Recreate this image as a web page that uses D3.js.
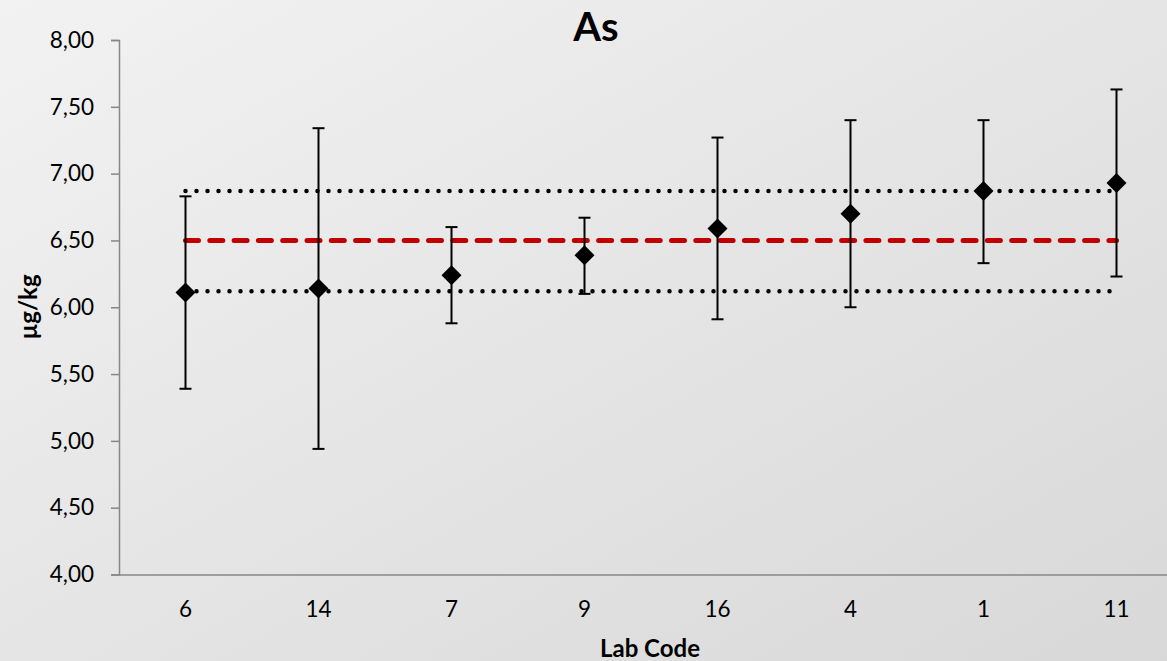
<!DOCTYPE html>
<html lang="en">
<head>
    <meta charset="UTF-8">
    <title>As</title>
    <script src="https://d3js.org/d3.v7.min.js"></script>
    <style>
        body { margin: 0; }
        text { font-family: Lato, "Open Sans", sans-serif; fill: #000; }
        .tick-label { font-size: 22.5px; }
        .axis-title { font-size: 24px; font-weight: bold; }
        .title { font-size: 40px; font-weight: bold; }
    </style>
</head>
<body>
    <div id="chart"></div>

    <script>
        // Data
        const labCodes = ["6", "14", "7", "9", "16", "4", "1", "11"];
        const values = [6.11, 6.14, 6.24, 6.39, 6.59, 6.70, 6.87, 6.93];
        const errUpper = [6.83, 7.34, 6.60, 6.67, 7.27, 7.40, 7.40, 7.63];
        const errLower = [5.39, 4.94, 5.88, 6.10, 5.91, 6.00, 6.33, 6.23];
        const assignedValue = 6.50;
        const upperLimit = 6.87;
        const lowerLimit = 6.12;
        const yTicks = [4.0, 4.5, 5.0, 5.5, 6.0, 6.5, 7.0, 7.5, 8.0];

        const W = 1167, H = 661;
        const margin = { top: 40, left: 119 };
        const plotBottom = 574.5, plotRight = 1183;

        const svg = d3.select("#chart")
            .append("svg")
            .attr("width", W)
            .attr("height", H);

        // background gradient
        const grad = svg.append("defs").append("linearGradient")
            .attr("id", "bg")
            .attr("x1", "0%").attr("y1", "0%")
            .attr("x2", "100%").attr("y2", "100%");
        grad.append("stop").attr("offset", "0%").attr("stop-color", "#f2f2f2");
        grad.append("stop").attr("offset", "100%").attr("stop-color", "#d8d8d8");
        svg.append("rect").attr("width", W).attr("height", H).attr("fill", "url(#bg)");

        const x = d3.scaleBand().domain(labCodes).range([margin.left, plotRight]);
        const y = d3.scaleLinear().domain([4, 8]).range([plotBottom, margin.top]);
        const cx = d => x(d) + x.bandwidth() / 2;

        const fmt = v => d3.format(".2f")(v).replace(".", ",");

        // Y axis
        const yAxis = svg.append("g")
            .attr("transform", `translate(${margin.left},0)`)
            .call(d3.axisLeft(y).tickValues(yTicks).tickSize(8).tickFormat(fmt));
        yAxis.select(".domain").attr("stroke", "#878787").attr("stroke-width", 1.5);
        yAxis.selectAll(".tick line").attr("stroke", "#878787").attr("stroke-width", 1.5);
        yAxis.selectAll(".tick text")
            .attr("class", "tick-label")
            .attr("x", -25)
            .attr("font-family", null).attr("font-size", null)
            .attr("fill", "#000");

        // X axis
        const xAxis = svg.append("g")
            .attr("transform", `translate(0,${plotBottom})`)
            .call(d3.axisBottom(x).tickSize(0).tickPadding(27));
        xAxis.select(".domain").attr("stroke", "#878787").attr("stroke-width", 1.5);
        xAxis.selectAll(".tick text")
            .attr("class", "tick-label")
            .attr("font-family", null).attr("font-size", null)
            .attr("fill", "#000");

        // reference lines from first to last lab
        const line = d3.line().x(d => cx(d[0])).y(d => y(d[1]));
        [upperLimit, lowerLimit].forEach(v => {
            svg.append("path")
                .attr("d", line(labCodes.map(c => [c, v])))
                .attr("fill", "none")
                .attr("stroke", "#000")
                .attr("stroke-width", 4.5)
                .attr("stroke-linecap", "round")
                .attr("stroke-dasharray", "0,11");
        });
        svg.append("path")
            .attr("d", line(labCodes.map(c => [c, assignedValue])))
            .attr("fill", "none")
            .attr("stroke", "#c00000")
            .attr("stroke-width", 5)
            .attr("stroke-linecap", "round")
            .attr("stroke-dasharray", "13,11.3");

        // error bars
        const bars = svg.append("g").attr("stroke", "#000").attr("stroke-width", 2);
        labCodes.forEach((c, i) => {
            bars.append("line")
                .attr("x1", cx(c)).attr("x2", cx(c))
                .attr("y1", y(errUpper[i])).attr("y2", y(errLower[i]));
            [errUpper[i], errLower[i]].forEach(v => {
                bars.append("line")
                    .attr("x1", cx(c) - 6).attr("x2", cx(c) + 6)
                    .attr("y1", y(v)).attr("y2", y(v));
            });
        });

        // diamond markers
        svg.append("g").selectAll("path")
            .data(labCodes)
            .enter()
            .append("path")
            .attr("transform", (c, i) => `translate(${cx(c)},${y(values[i])})`)
            .attr("d", "M0,-10L10,0L0,10L-10,0Z")
            .attr("fill", "#000");

        // titles
        svg.append("text")
            .attr("class", "title")
            .attr("x", 596).attr("y", 41)
            .attr("text-anchor", "middle")
            .text("As");

        svg.append("text")
            .attr("class", "axis-title")
            .attr("x", 650).attr("y", 657)
            .attr("text-anchor", "middle")
            .text("Lab Code");

        svg.append("text")
            .attr("class", "axis-title")
            .attr("transform", "translate(37,307) rotate(-90)")
            .attr("text-anchor", "middle")
            .text("µg/kg");
    </script>
</body>
</html>
